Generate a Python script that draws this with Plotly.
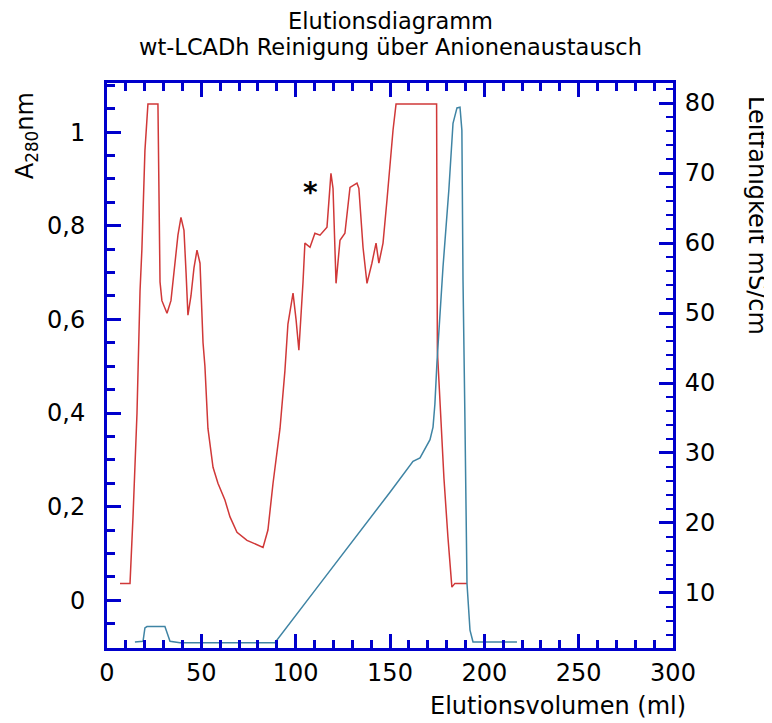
import plotly.graph_objects as go

# A280 (left axis)
a280_ml = [6.9, 12.2, 13.8, 15.9, 17.5, 18.5, 20.1, 21.7, 27.0, 28.1, 29.1, 31.8, 33.9, 36.0, 37.6,
           39.2, 40.8, 41.9, 42.9, 44.5, 46.1, 47.7, 49.3, 50.9, 51.9, 53.5, 56.2, 58.8, 62.5, 65.2,
           68.9, 74.2, 79.5, 82.7, 85.3, 88.0, 91.7, 94.3, 95.9, 98.6, 100.2, 101.7, 103.9, 104.9,
           107.6, 110.2, 112.9, 116.6, 118.7, 119.8, 121.4, 123.5, 126.1, 128.8, 132.5, 133.5, 135.7,
           137.8, 140.4, 142.6, 144.1, 146.3, 148.4, 150.0, 151.6, 153.2, 174.7, 175.1, 176.9, 178.6,
           180.7, 182.8, 184.4, 190.8]
a280_val = [0.036, 0.036, 0.18, 0.40, 0.66, 0.75, 0.96, 1.06, 1.06, 0.68, 0.64, 0.613, 0.64, 0.72, 0.78,
            0.818, 0.79, 0.70, 0.609, 0.65, 0.71, 0.748, 0.72, 0.55, 0.50, 0.367, 0.284, 0.25, 0.214, 0.178,
            0.145, 0.128, 0.118, 0.113, 0.15, 0.25, 0.367, 0.49, 0.59, 0.656, 0.60, 0.534, 0.68, 0.763,
            0.754, 0.784, 0.78, 0.797, 0.912, 0.88, 0.677, 0.769, 0.784, 0.882, 0.891, 0.88, 0.754,
            0.677, 0.72, 0.763, 0.72, 0.763, 0.855, 0.934, 1.004, 1.06, 1.06, 0.534, 0.39, 0.26,
            0.135, 0.028, 0.036, 0.036]

# Conductivity (right axis)
cond_ml = [14.8, 19.1, 20.1, 21.2, 30.7, 32.3, 33.4, 38.7, 89.0, 110.0, 130.0, 150.0, 162.2, 165.9,
           171.2, 172.8, 173.8, 174.9, 178.1, 181.2, 183.4, 185.5, 187.1, 188.1,
           188.7, 189.2, 189.7, 190.8, 192.4, 194.0, 217.3]
cond_val = [3.0, 3.1, 5.0, 5.2, 5.2, 4.0, 3.1, 2.9, 2.9, 10.3, 17.3, 24.4, 28.8, 29.3,
            31.9, 33.7, 37.0, 43.0, 56.6, 67.6, 77.1, 79.3, 79.4, 76.1,
            54.7, 40.4, 35.1, 11.4, 4.7, 3.0, 3.0]

BLUE = "#0000cc"
FONT = "DejaVu Sans, Verdana, sans-serif"

fig = go.Figure()
fig.add_trace(go.Scatter(x=a280_ml, y=a280_val, mode="lines",
                         line=dict(color="#d03838", width=1.5), yaxis="y", showlegend=False))
fig.add_trace(go.Scatter(x=cond_ml, y=cond_val, mode="lines",
                         line=dict(color="#3f84a4", width=1.5), yaxis="y2", showlegend=False))

fig.update_layout(
    width=764, height=715,
    margin=dict(l=99, r=99, t=75, b=75),
    plot_bgcolor="white", paper_bgcolor="white",
    separators=",.",
    font=dict(family=FONT, size=24, color="black"),
    xaxis=dict(range=[0, 300], dtick=50, tick0=0, ticks="inside", ticklen=14, tickwidth=2.5,
               tickcolor=BLUE, showline=True, linecolor=BLUE, linewidth=3, mirror="ticks",
               showgrid=False, zeroline=False, ticklabelstandoff=1,
               minor=dict(dtick=10, ticks="inside", ticklen=8, tickwidth=2.5, tickcolor=BLUE, showgrid=False)),
    yaxis=dict(range=[-0.102, 1.105], dtick=0.2, tick0=0, ticks="inside", ticklen=14, tickwidth=2.5,
               tickcolor=BLUE, showline=True, linecolor=BLUE, linewidth=3, showgrid=False,
               zeroline=False, ticklabelstandoff=14,
               minor=dict(dtick=0.05, ticks="inside", ticklen=8, tickwidth=2.5, tickcolor=BLUE, showgrid=False)),
    yaxis2=dict(range=[2.14, 82.86], dtick=10, tick0=0, overlaying="y", side="right", ticks="inside",
                ticklen=14, tickwidth=2.5, tickcolor=BLUE, showline=True, linecolor=BLUE, linewidth=3,
                showgrid=False, zeroline=False, ticklabelstandoff=4,
                minor=dict(dtick=2, ticks="inside", ticklen=7, tickwidth=2, tickcolor=BLUE, showgrid=False)),
)

fig.add_annotation(text="Elutionsdiagramm", xref="paper", yref="paper", x=0.5, y=1.1106,
                   showarrow=False, font=dict(size=22.5, family=FONT), xanchor="center", yanchor="middle")
fig.add_annotation(text="wt-LCADh Reinigung über Anionenaustausch", xref="paper", yref="paper",
                   x=0.5, y=1.0637, showarrow=False, font=dict(size=22.5, family=FONT),
                   xanchor="center", yanchor="middle")
fig.add_annotation(text="A<sub>280</sub>nm", xref="paper", yref="paper", x=-0.143, y=0.906,
                   textangle=-90, showarrow=False, font=dict(size=24, family=FONT),
                   xanchor="center", yanchor="middle")
fig.add_annotation(text="Leitfähigkeit mS/cm", xref="paper", yref="paper", x=1.1484, y=0.7646,
                   textangle=90, showarrow=False, font=dict(size=24, family=FONT),
                   xanchor="center", yanchor="middle")
fig.add_annotation(text="Elutionsvolumen (ml)", xref="paper", yref="paper", x=1.0265, y=-0.103,
                   showarrow=False, font=dict(size=24, family=FONT),
                   xanchor="right", yanchor="middle")
fig.add_annotation(text="<b>*</b>", x=108, y=0.872, xref="x", yref="y", showarrow=False,
                   font=dict(size=28, family=FONT))

fig.write_html("out.html")
